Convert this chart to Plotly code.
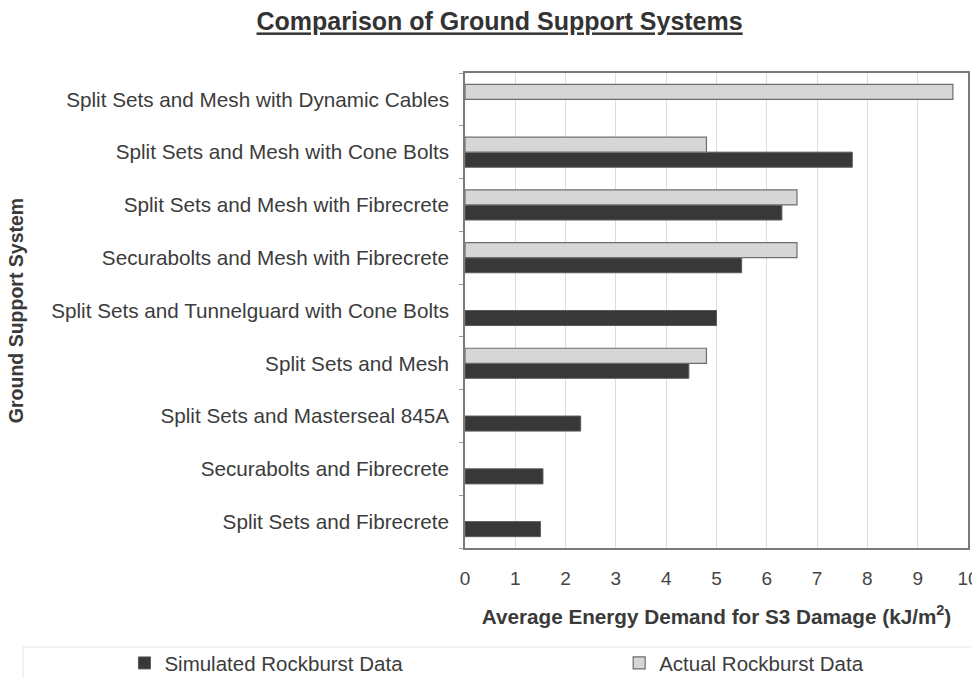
import plotly.graph_objects as go

# Ground support systems, listed from the bottom of the chart upwards
systems = [
    "Split Sets and Fibrecrete",
    "Securabolts and Fibrecrete",
    "Split Sets and Masterseal 845A",
    "Split Sets and Mesh",
    "Split Sets and Tunnelguard with Cone Bolts",
    "Securabolts and Mesh with Fibrecrete",
    "Split Sets and Mesh with Fibrecrete",
    "Split Sets and Mesh with Cone Bolts",
    "Split Sets and Mesh with Dynamic Cables",
]

# Average energy demand for S3 damage (kJ/m^2); None = no data
simulated = [1.5, 1.55, 2.3, 4.45, 5.0, 5.5, 6.3, 7.7, None]
actual = [None, None, None, 4.8, None, 6.6, 6.6, 4.8, 9.7]

x_ticks = list(range(0, 11))

fig = go.Figure()
fig.add_trace(go.Bar(
    y=systems, x=simulated, orientation="h",
    name="Simulated Rockburst Data", legend="legend",
    marker=dict(color="#383838", line=dict(color="#5a5a5a", width=1)),
))
fig.add_trace(go.Bar(
    y=systems, x=actual, orientation="h",
    name="Actual Rockburst Data", legend="legend2",
    marker=dict(color="#d6d6d6", line=dict(color="#6e6e6e", width=1.2)),
))

legend_style = dict(
    orientation="h", xref="container", yref="container",
    xanchor="left", y=0.022, yanchor="middle",
    font=dict(size=20.5, color="#3c3c3c"), bgcolor="rgba(0,0,0,0)",
)

fig.update_layout(
    width=972, height=678,
    margin=dict(l=465, r=4, t=73, b=130, autoexpand=False),
    paper_bgcolor="white", plot_bgcolor="white",
    barmode="group", bargap=0.43, bargroupgap=0,
    font=dict(family="Liberation Sans, Arial, sans-serif", size=20, color="#3c3c3c"),
    title=dict(
        text="<u>Comparison of Ground Support Systems</u>",
        x=0.514, xref="container", xanchor="center",
        y=0.968, yref="container", yanchor="middle",
        font=dict(family="Liberation Sans Narrow, Arial Narrow, Liberation Sans, sans-serif",
                  size=25, color="#333333", weight="bold"),
    ),
    xaxis=dict(
        range=[0, 10], tickvals=x_ticks, ticktext=[str(v) for v in x_ticks],
        showgrid=True, gridcolor="#dddddd", gridwidth=1,
        showline=True, mirror=True, linecolor="#7a7a7a", linewidth=1.5,
        ticks="", ticklabelstandoff=12, zeroline=False,
        ticklabeloverflow="allow",
        tickfont=dict(size=19, color="#444444"),
        title=dict(
            text="<b>Average Energy Demand for S3 Damage (kJ/m<sup>2</sup>)</b>",
            font=dict(size=20.7, color="#3a3a3a"), standoff=22,
        ),
    ),
    yaxis=dict(
        showline=True, mirror=True, linecolor="#7a7a7a", linewidth=1.5,
        ticks="outside", tickson="boundaries", ticklen=4, tickcolor="#999999",
        ticklabelstandoff=10, showgrid=False,
        tickfont=dict(size=20.7, color="#3c3c3c"),
        title=dict(text="<b>Ground Support System</b>", standoff=22,
                   font=dict(size=19.5, color="#3a3a3a")),
    ),
    legend=dict(legend_style, x=0.128),
    legend2=dict(legend_style, x=0.637),
    showlegend=True,
)

# faint frame edge around the legend strip
fig.add_shape(type="line", xref="paper", yref="paper",
              x0=(23 - 465) / 503, x1=(972 - 465) / 503,
              y0=(548 - 647) / 475, y1=(548 - 647) / 475,
              line=dict(color="#e6e6e6", width=1))
fig.add_shape(type="line", xref="paper", yref="paper",
              x0=(23 - 465) / 503, x1=(23 - 465) / 503,
              y0=(548 - 647) / 475, y1=(548 - 678) / 475,
              line=dict(color="#e6e6e6", width=1))

fig.write_html("out.html")
